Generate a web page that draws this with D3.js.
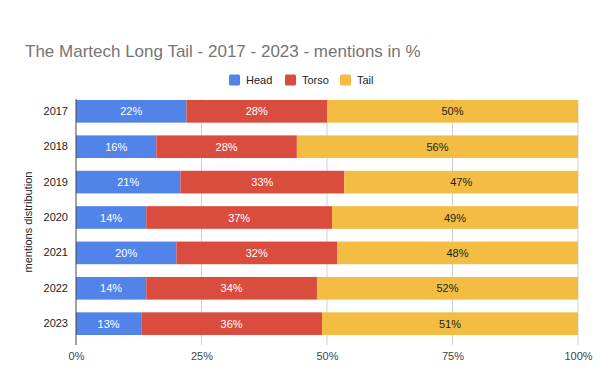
<!DOCTYPE html>
<html><head><meta charset="utf-8">
<script src="https://cdn.jsdelivr.net/npm/d3@7"></script>
<style>body{margin:0;background:#fff;}svg{display:block;font-family:Arial,"Liberation Sans",sans-serif;}</style>
</head><body><svg id="c" width="600" height="382"></svg>
<script>
const years = ["2017","2018","2019","2020","2021","2022","2023"];
const head  = [22,16,21,14,20,14,13];
const torso = [28,28,33,37,32,34,36];
const tail  = [50,56,47,49,48,52,51];
const seriesNames = ["Head","Torso","Tail"];
const seriesColors = ["#5283e9","#d94c3e","#f2bd42"];
const xTicks = [0,0.25,0.5,0.75,1];

const FONT = 'Arial,"Liberation Sans",sans-serif';
const svg = d3.select("#c");
const x = d3.scaleLinear().domain([0,1]).range([76,578]);
const y = d3.scaleBand().domain(years).range([100,335]).paddingInner(0.36).paddingOuter(0);
const plotTop = 99, plotBottom = 345;

const rows = years.map((yr,i)=>({year:yr, Head:head[i], Torso:torso[i], Tail:tail[i]}));
const stack = d3.stack().keys(seriesNames).offset(d3.stackOffsetExpand);
const stacked = stack(rows);

// title
svg.append("text").attr("x",25).attr("y",57).attr("font-size",17).attr("fill","#757575").text("The Martech Long Tail - 2017 - 2023 - mentions in %");

// legend
const legX = [229,285,340];
seriesNames.forEach((n,i)=>{
  svg.append("rect").attr("x",legX[i]).attr("y",74.5).attr("width",11).attr("height",11).attr("rx",1.5).attr("fill",seriesColors[i]);
  svg.append("text").attr("x",legX[i]+17).attr("y",84).attr("font-size",11).attr("fill","#222").text(n);
});

// grid
const g = svg.append("g");
g.selectAll("line.grid").data(xTicks.slice(1)).join("line")
 .attr("x1",d=>x(d)).attr("x2",d=>x(d)).attr("y1",plotTop).attr("y2",plotBottom)
 .attr("stroke","#d0d0d0").attr("stroke-width",1);

// bars
stacked.forEach((s,si)=>{
  g.selectAll(null).data(s).join("rect")
   .attr("x",d=>x(d[0])).attr("width",d=>x(d[1])-x(d[0]))
   .attr("y",d=>y(d.data.year)).attr("height",y.bandwidth())
   .attr("fill",seriesColors[si]);
  g.selectAll(null).data(s).join("text")
   .attr("x",d=>(x(d[0])+x(d[1]))/2).attr("y",d=>y(d.data.year)+y.bandwidth()/2+4)
   .attr("text-anchor","middle").attr("font-size",11)
   .attr("fill",si===2?"#222":"#fff")
   .text(d=>d.data[s.key]+"%");
});

// zero axis line
g.append("line").attr("x1",x(0)).attr("x2",x(0)).attr("y1",plotTop).attr("y2",plotBottom).attr("stroke","#444").attr("stroke-width",1);

// x tick labels
const xAxis = d3.axisBottom(x).tickValues(xTicks).tickFormat(d3.format(".0%")).tickSize(0).tickPadding(0);
const xa = svg.append("g").attr("transform",`translate(0,${plotBottom+7})`).call(xAxis);
xa.select(".domain").remove();
xa.selectAll("text").attr("font-size",11).attr("fill","#444").attr("font-family",FONT);

// y tick labels
const yAxis = d3.axisLeft(y).tickSize(0).tickPadding(0);
const ya = svg.append("g").attr("transform",`translate(68,0)`).call(yAxis);
ya.select(".domain").remove();
ya.selectAll("text").attr("font-size",11).attr("fill","#222").attr("font-family",FONT);

// y axis title
svg.append("text").attr("transform","translate(32,222) rotate(-90)").attr("text-anchor","middle")
 .attr("font-size",11).attr("fill","#222").text("mentions distribution");
</script></body></html>
